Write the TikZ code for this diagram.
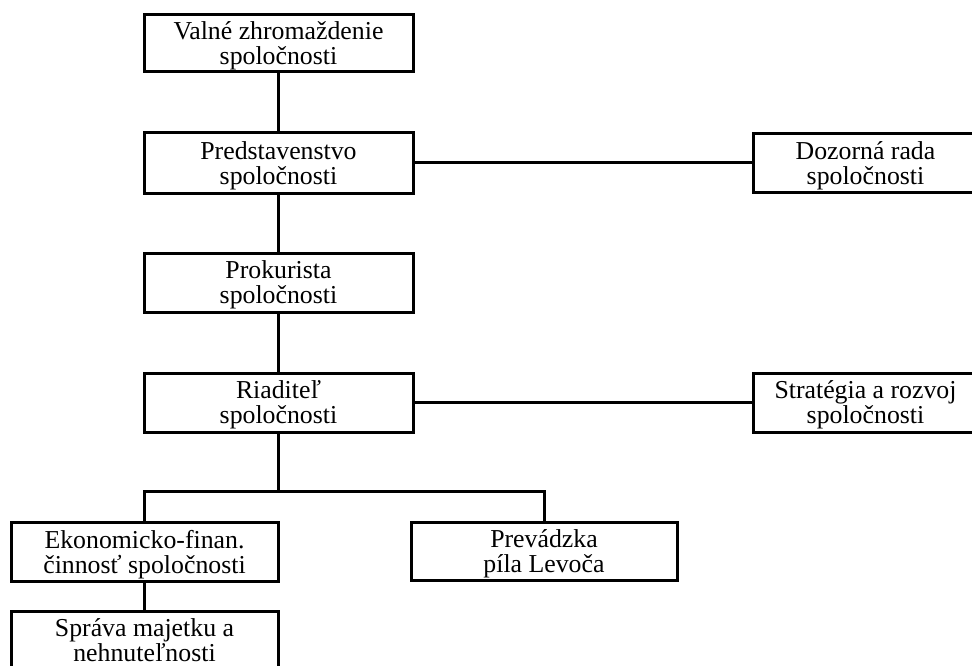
\documentclass[tikz,border=0pt]{standalone}
\usepackage{fontspec}
\setmainfont{Liberation Serif}
\usepackage{tikz}
\usetikzlibrary{calc}
\tikzset{
  unitbox/.style={draw, line width=3pt, inner sep=0pt, align=center,
    minimum width=269pt, minimum height=59pt, text depth=0pt,
    font=\fontsize{25.8}{25}\selectfont},
  sidebox/.style={unitbox, minimum width=225pt},
  link/.style={line width=3pt, line join=miter}
}

\begin{document}
\begin{tikzpicture}[x=1pt, y=-1pt]
        \useasboundingbox (0,0) rectangle (972,666);
        % main column
        \node[unitbox, minimum height=57pt] (valne) at (278.5,43.5) {Valné zhromaždenie\\spoločnosti};
        \node[unitbox, minimum height=60pt] (predst) at (278.5,163) {Predstavenstvo\\spoločnosti};
        \node[unitbox] (prokur) at (278.5,282.5) {Prokurista\\spoločnosti};
        \node[unitbox] (riadit) at (278.5,402.5) {Riaditeľ\\spoločnosti};
        % right side
        \node[sidebox, minimum height=58pt] (dozor) at (865.5,163) {Dozorná rada\\spoločnosti};
        \node[sidebox] (strat) at (865.5,402.5) {Stratégia a rozvoj\\spoločnosti};
        % bottom row
        \node[unitbox, minimum width=267pt] (ekon) at (144.5,551.5) {Ekonomicko-finan.\\činnosť spoločnosti};
        \node[unitbox, minimum width=266pt, minimum height=58pt] (prevad) at (544,551) {Prevádzka\\píla Levoča};
        \node[unitbox, minimum width=267pt] (sprava) at (144.5,640.5) {Správa majetku a\\nehnuteľnosti};
        % links
        \draw[link] (valne) -- (predst);
        \draw[link] (predst) -- (prokur);
        \draw[link] (prokur) -- (riadit);
        \draw[link] (predst.east) -- (dozor.west);
        \draw[link] (riadit.east) -- (strat.west);
        \coordinate (fork) at (278.5,491);
        \draw[link] (riadit.south) -- (fork);
        \draw[link] (ekon.north) |- (fork) -| (prevad.north);
        \draw[link] (ekon) -- (sprava);
    \end{tikzpicture}
\end{document}
